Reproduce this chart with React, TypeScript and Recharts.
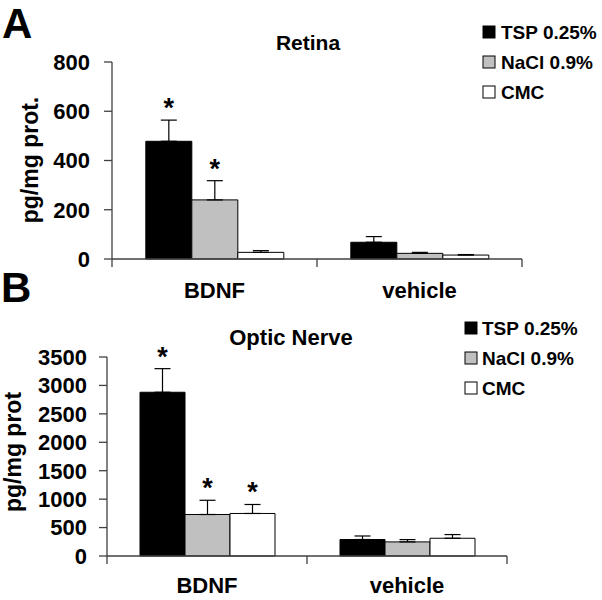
import React from 'react';
import { BarChart, Bar, XAxis, YAxis, ErrorBar, LabelList, Customized } from 'recharts';

// ---------- data ----------
const categories = ['BDNF', 'vehicle'];
const seriesNames = ['TSP 0.25%', 'NaCl 0.9%', 'CMC'];

// Panel A – Retina
const retinaTsp = [478, 68];
const retinaTspErr = [86, 23];
const retinaNacl = [240, 23];
const retinaNaclErr = [78, 4];
const retinaCmc = [27, 16];
const retinaCmcErr = [7, 2];
const retinaSig = [[true, false], [true, false], [false, false]];
const retinaTicks = [0, 200, 400, 600, 800];

// Panel B – Optic Nerve
const opticTsp = [2880, 290];
const opticTspErr = [415, 62];
const opticNacl = [730, 248];
const opticNaclErr = [250, 40];
const opticCmc = [748, 312];
const opticCmcErr = [158, 65];
const opticSig = [[true, false], [true, false], [true, false]];
const opticTicks = [0, 500, 1000, 1500, 2000, 2500, 3000, 3500];

// ---------- styles ----------
const FONT = "'Liberation Sans', Arial, Helvetica, sans-serif";
const AXIS = '#404040';
const FILLS = ['#000000', '#c0c0c0', '#ffffff'];
const KEYS = ['tsp', 'nacl', 'cmc'];

function buildRows(vals: number[][], errs: number[][]) {
  return categories.map((c, i) => {
    const row: any = { name: c };
    KEYS.forEach((k, s) => {
      row[k] = vals[s][i];
      row[k + 'Err'] = [0, errs[s][i]];
    });
    return row;
  });
}

const retinaData = buildRows([retinaTsp, retinaNacl, retinaCmc], [retinaTspErr, retinaNaclErr, retinaCmcErr]);
const opticData = buildRows([opticTsp, opticNacl, opticCmc], [opticTspErr, opticNaclErr, opticCmcErr]);

type Letter = { text: string; x: number; y: number };

type PanelCfg = {
  letters: Letter[];
  title: string;
  titleX: number;
  titleY: number;
  titleSize: number;
  yLabel: string;
  yLabelX: number;
  yLabelY: number;
  legendX: number;
  legendTextX: number;
  legendY: number[];
  height: number;
  top: number;
  marginTop: number;
  marginRight: number;
  yAxisWidth: number;
  xAxisHeight: number;
  tickMargin: number;
  xLabelY: number;
  domainMax: number;
  ticks: number[];
  data: any[];
  errs: number[][];
  sig: boolean[][];
};

function Panel({ cfg }: { cfg: PanelCfg }) {
  const W = 602;
  const plotLeft = cfg.yAxisWidth;
  const plotRight = W - cfg.marginRight;
  const plotBottom = cfg.height - cfg.xAxisHeight;
  const catW = (plotRight - plotLeft) / categories.length;

  const renderXTick = (props: any) => {
    const { x, payload, index } = props;
    const cx = payload && payload.coordinate !== undefined ? payload.coordinate : x;
    const left = cx - catW / 2;
    const right = cx + catW / 2;
    return (
      <g>
        <line x1={left} x2={left} y1={plotBottom} y2={plotBottom + 8} stroke={AXIS} strokeWidth={1.3} />
        {index === categories.length - 1 && (
          <line x1={right} x2={right} y1={plotBottom} y2={plotBottom + 8} stroke={AXIS} strokeWidth={1.3} />
        )}
        <text x={cx} y={cfg.xLabelY} textAnchor="middle" fontFamily={FONT} fontWeight="bold" fontSize={22} fill="#000">
          {payload.value}
        </text>
      </g>
    );
  };

  const makeStar = (s: number) => (props: any) => {
    const { x, y, width, height, value, index } = props;
    if (!cfg.sig[s][index]) return null;
    const pxPerUnit = value > 0 ? height / value : 0;
    const errTop = y - cfg.errs[s][index] * pxPerUnit;
    return (
      <text x={x + width / 2} y={errTop - 3} textAnchor="middle" fontFamily={FONT} fontWeight="bold" fontSize={27} fill="#000">
        *
      </text>
    );
  };

  const overlay = () => (
    <g>
      {cfg.letters.map((l) => (
        <text key={l.text} x={l.x} y={l.y} fontFamily={FONT} fontWeight="bold" fontSize={42} fill="#000">
          {l.text}
        </text>
      ))}
      <text x={cfg.titleX} y={cfg.titleY} textAnchor="middle" fontFamily={FONT} fontWeight="bold" fontSize={cfg.titleSize} fill="#000">
        {cfg.title}
      </text>
      <text
        x={cfg.yLabelX}
        y={cfg.yLabelY}
        transform={`rotate(-90 ${cfg.yLabelX} ${cfg.yLabelY})`}
        textAnchor="middle"
        fontFamily={FONT}
        fontWeight="bold"
        fontSize={23}
        fill="#000"
      >
        {cfg.yLabel}
      </text>
      {seriesNames.map((n, i) => (
        <g key={n}>
          <rect x={cfg.legendX} y={cfg.legendY[i] - 6} width={12} height={12} fill={FILLS[i]} stroke="#000" strokeWidth={1} />
          <text x={cfg.legendTextX} y={cfg.legendY[i] + 7} fontFamily={FONT} fontWeight="bold" fontSize={19} fill="#000">
            {n}
          </text>
        </g>
      ))}
    </g>
  );

  return (
    <div style={{ position: 'absolute', left: 0, top: cfg.top, width: W, height: cfg.height }}>
      <BarChart
        width={W}
        height={cfg.height}
        data={cfg.data}
        margin={{ top: cfg.marginTop, right: cfg.marginRight, bottom: 0, left: 0 }}
        barCategoryGap="16.5%"
        barGap={0}
      >
        <XAxis
          dataKey="name"
          height={cfg.xAxisHeight}
          axisLine={{ stroke: AXIS, strokeWidth: 1.3 }}
          tickLine={false}
          tick={renderXTick}
          interval={0}
        />
        <YAxis
          width={cfg.yAxisWidth}
          domain={[0, cfg.domainMax]}
          ticks={cfg.ticks}
          interval={0}
          axisLine={{ stroke: AXIS, strokeWidth: 1.3 }}
          tickLine={{ stroke: AXIS, strokeWidth: 1.3 }}
          tickSize={8}
          tickMargin={cfg.tickMargin}
          tick={{ fill: '#000', fontSize: 22, fontWeight: 'bold', fontFamily: FONT }}
        />
        {KEYS.map((k, s) => (
          <Bar key={k} dataKey={k} fill={FILLS[s]} stroke="#000" strokeWidth={1} isAnimationActive={false}>
            <ErrorBar dataKey={k + 'Err'} width={8} stroke="#000" strokeWidth={1.2} direction="y" />
            <LabelList dataKey={k} content={makeStar(s)} />
          </Bar>
        ))}
        <Customized component={overlay} />
      </BarChart>
    </div>
  );
}

// Panel A occupies 0..312, panel B 312..600 (absolute page pixels)
const panelA: PanelCfg = {
  letters: [
    { text: 'A', x: 2, y: 38 },
    { text: 'B', x: 1, y: 302 },
  ],
  title: 'Retina',
  titleX: 308,
  titleY: 50,
  titleSize: 21,
  yLabel: 'pg/mg prot.',
  yLabelX: 38,
  yLabelY: 160,
  legendX: 483,
  legendTextX: 501,
  legendY: [32, 62, 92],
  height: 312,
  top: 0,
  marginTop: 62,
  marginRight: 80,
  yAxisWidth: 112,
  xAxisHeight: 53,
  tickMargin: 14,
  xLabelY: 298,
  domainMax: 800,
  ticks: retinaTicks,
  data: retinaData,
  errs: [retinaTspErr, retinaNaclErr, retinaCmcErr],
  sig: retinaSig,
};

const panelB: PanelCfg = {
  letters: [],
  title: 'Optic Nerve',
  titleX: 291,
  titleY: 33,
  titleSize: 22,
  yLabel: 'pg/mg prot',
  yLabelX: 21,
  yLabelY: 140,
  legendX: 465,
  legendTextX: 482,
  legendY: [16, 46, 76],
  height: 288,
  top: 312,
  marginTop: 45,
  marginRight: 95,
  yAxisWidth: 107,
  xAxisHeight: 44,
  tickMargin: 12,
  xLabelY: 281,
  domainMax: 3500,
  ticks: opticTicks,
  data: opticData,
  errs: [opticTspErr, opticNaclErr, opticCmcErr],
  sig: opticSig,
};

export default function App() {
  return (
    <div style={{ position: 'absolute', left: 0, top: 0, width: 602, height: 600, background: '#fff', overflow: 'hidden' }}>
      <Panel cfg={panelA} />
      <Panel cfg={panelB} />
    </div>
  );
}
